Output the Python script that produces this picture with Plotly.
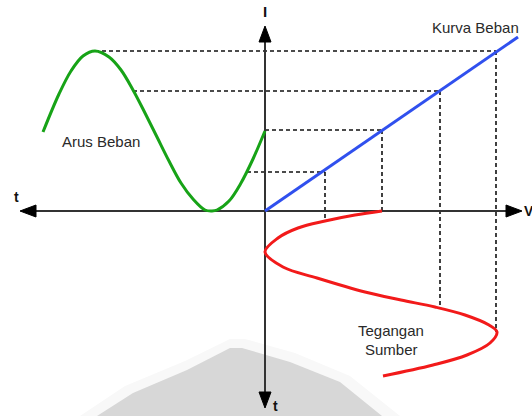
import plotly.graph_objects as go

# Load current I (up) against time t (to the left of the I axis)
green_t = [0, 12, 24, 36, 48, 53, 60, 72, 84, 96, 108, 120, 132, 144, 156, 170, 182, 194, 206, 222]
green_i = [80, 52, 28, 10, 1, 0, 1, 12, 28, 50, 74, 98, 121, 141, 154, 160, 155, 140, 117, 79]

# Load line: straight I-V characteristic from the origin
blue_v = [0, 253]
blue_i = [0, 174]

# Source voltage V (to the right) against time t (downwards)
red_t = [0, 4, 10, 17, 27, 41, 56, 67, 81, 89, 96, 104, 114, 121, 132, 144, 154, 165]
red_v = [117, 90, 60, 33, 13, 0, 18, 52, 100, 136, 170, 200, 224, 232, 225, 202, 168, 118]

# Projection points: current level, green time, voltage, red time
proj_i = [39, 81, 120, 160]
proj_green_t = [18, 0, 132, 170]
proj_v = [60, 117, 175, 231]
proj_red_t = [11, 0, 97, 121]

# Axis extents (left t, right V, top I, bottom t)
ax_left, ax_right, ax_top, ax_bottom = -245, 257, 185, -197

AXIS = "#333333"
DASH = dict(color="#111111", width=1.6, dash="4px,3px")

fig = go.Figure()

# soft grey mound in the background
mound_x = [-168, -132, -78, -35, -23, 25, 75, 117]
mound_y = [-205, -182, -159, -137, -137, -151, -171, -205]
halo_x = [-185, -140, -80, -35, -20, 30, 85, 135]
halo_y = [-205, -175, -150, -128, -128, -142, -165, -205]
fig.add_trace(go.Scatter(x=halo_x, y=halo_y, fill="toself", fillcolor="#f8f8f8",
                         line=dict(width=0), mode="lines", hoverinfo="skip"))
fig.add_trace(go.Scatter(x=mound_x, y=mound_y, fill="toself", fillcolor="#d7d7d7",
                         line=dict(width=0), mode="lines", hoverinfo="skip"))

# dashed projection lines
for i_lvl, gt, v, rt in zip(proj_i, proj_green_t, proj_v, proj_red_t):
    fig.add_trace(go.Scatter(x=[-gt, v], y=[i_lvl, i_lvl], mode="lines", line=DASH))
    fig.add_trace(go.Scatter(x=[v, v], y=[i_lvl, -rt], mode="lines", line=DASH))

# axes
fig.add_trace(go.Scatter(x=[ax_left + 12, ax_right - 12], y=[0, 0], mode="lines",
                         line=dict(color=AXIS, width=2)))
fig.add_trace(go.Scatter(x=[0, 0], y=[ax_top - 12, ax_bottom + 12], mode="lines",
                         line=dict(color=AXIS, width=2)))

# arrowheads
def head(tip, base, half, horizontal):
    if horizontal:
        return [tip, base, base, tip], [0, half, -half, 0]
    return [0, half, -half, 0], [tip, base, base, tip]

for tip, base, hz in [(ax_left, ax_left + 16, True), (ax_right, ax_right - 16, True),
                      (ax_top, ax_top - 16, False), (ax_bottom, ax_bottom + 16, False)]:
    hx, hy = head(tip, base, 6, hz)
    fig.add_trace(go.Scatter(x=hx, y=hy, fill="toself", fillcolor="#000000",
                             line=dict(color="#000000", width=1), mode="lines"))

# curves
fig.add_trace(go.Scatter(x=[-t for t in green_t], y=green_i, mode="lines",
                         line=dict(color="#17a317", width=3, shape="spline")))
fig.add_trace(go.Scatter(x=red_v, y=[-t for t in red_t], mode="lines",
                         line=dict(color="#f21a1a", width=3, shape="spline")))
fig.add_trace(go.Scatter(x=blue_v, y=blue_i, mode="lines",
                         line=dict(color="#3050ee", width=3)))

FONT = "Liberation Sans, Arial, sans-serif"
def label(x, y, text, size=15, color="#2a2a2a", bold=False):
    fig.add_annotation(x=x, y=y, text=f"<b>{text}</b>" if bold else text, showarrow=False,
                       font=dict(family=FONT, size=size, color=color),
                       xanchor="center", yanchor="middle")

label(210, 184, "Kurva Beban")
label(-164, 70, "Arus Beban")
label(126, -119, "Tegangan")
label(126, -138, "Sumber")
label(0, 200, "I", size=15, color="#111111", bold=True)
label(-249, 14, "t", size=14, color="#111111", bold=True)
label(264, 0, "V", size=14, color="#111111", bold=True)
label(10, -195, "t", size=14, color="#111111", bold=True)

fig.update_layout(
    width=532, height=416,
    margin=dict(l=0, r=0, t=0, b=0),
    paper_bgcolor="white", plot_bgcolor="white",
    showlegend=False,
    xaxis=dict(range=[-265, 267], visible=False, fixedrange=True),
    yaxis=dict(range=[-205, 211], visible=False, fixedrange=True),
)

fig.write_html("out.html")
